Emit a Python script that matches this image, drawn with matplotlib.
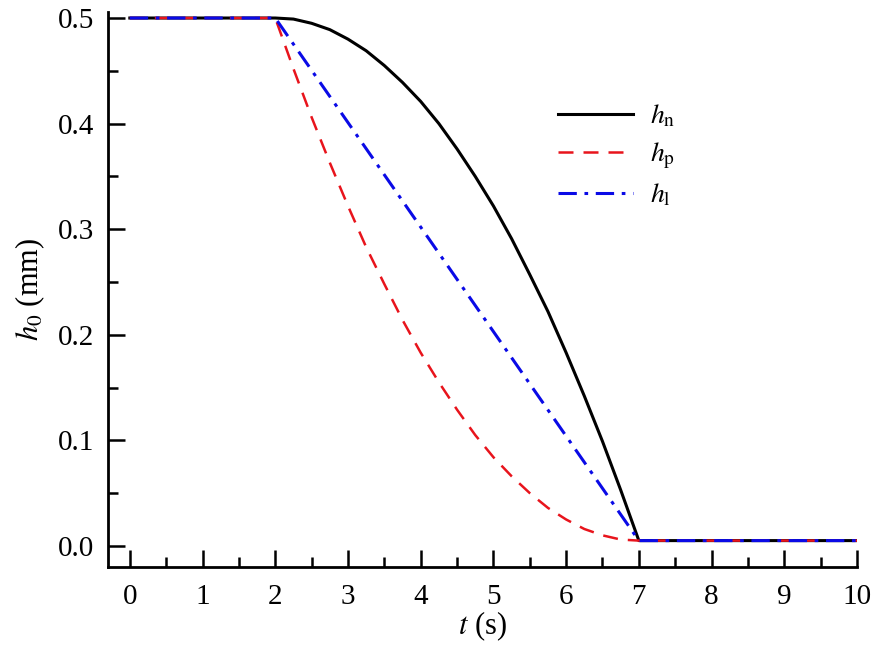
import numpy as np
import matplotlib
matplotlib.use("Agg")
import matplotlib.pyplot as plt
from matplotlib.ticker import MultipleLocator

plt.rcParams['font.family'] = ['Liberation Serif', 'DejaVu Serif']
plt.rcParams['mathtext.fontset'] = 'stix'

# time points (s)
t = [0, 1, 2, 2.25, 2.5, 2.75, 3, 3.25, 3.5, 3.75, 4, 4.25, 4.5, 4.75,
     5, 5.25, 5.5, 5.75, 6, 6.25, 6.5, 6.75, 7, 8, 9, 10]

# h_n : slow start, steep end
h_n = [0.5, 0.5, 0.5, 0.499, 0.495, 0.489, 0.480, 0.469, 0.455, 0.439,
       0.421, 0.400, 0.376, 0.350, 0.322, 0.291, 0.257, 0.222, 0.183,
       0.142, 0.099, 0.053, 0.005, 0.005, 0.005, 0.005]

# h_p : steep start, slow end
h_p = [0.5, 0.5, 0.5, 0.452, 0.406, 0.363, 0.322, 0.283, 0.248, 0.214,
       0.183, 0.155, 0.129, 0.105, 0.084, 0.066, 0.050, 0.036, 0.025,
       0.016, 0.010, 0.006, 0.005, 0.005, 0.005, 0.005]

# h_l : linear drop
t_l = [0, 1, 2, 7, 8, 9, 10]
h_l = [0.5, 0.5, 0.5, 0.005, 0.005, 0.005, 0.005]

fig = plt.figure(figsize=(8.8, 6.5), dpi=100)
ax = fig.add_axes([108/880, 83/650, (857-108)/880, (567-12)/650])

ax.plot(t, h_n, color='black', lw=2.2, label=r'$h_\mathrm{n}$')
ax.plot(t, h_p, color='#e8141c', lw=1.8, linestyle=(0, (6, 4)), label=r'$h_\mathrm{p}$')
ax.plot(t_l, h_l, color='#0a0ae6', lw=2.2, linestyle=(0, (6, 2.5, 1.2, 2.5)), label=r'$h_\mathrm{l}$')

ax.set_xlim(-0.3, 10)
ax.set_ylim(-0.02, 0.5057)
ax.xaxis.set_major_locator(MultipleLocator(1))
ax.xaxis.set_minor_locator(MultipleLocator(0.5))
ax.yaxis.set_major_locator(MultipleLocator(0.1))
ax.yaxis.set_minor_locator(MultipleLocator(0.05))
ax.set_xticks(np.arange(0, 11, 1))
ax.set_yticks([0, 0.1, 0.2, 0.3, 0.4, 0.5])
ax.set_yticklabels(['0.0', '0.1', '0.2', '0.3', '0.4', '0.5'])

for s in ['top', 'right']:
    ax.spines[s].set_visible(False)
for s in ['left', 'bottom']:
    ax.spines[s].set_linewidth(2)

ax.tick_params(which='major', direction='in', length=12, width=1.8, labelsize=21, pad=10)
ax.tick_params(which='minor', direction='in', length=7, width=1.8)
ax.tick_params(axis='x', pad=12)

ax.set_xlabel(r'$t$ (s)', fontsize=22, labelpad=0)
ax.set_ylabel(r'$h_0$ (mm)', fontsize=22, labelpad=8)

ax.legend(loc='upper left', bbox_to_anchor=(544/880, 1 - 89/650), bbox_transform=fig.transFigure,
          frameon=False, fontsize=20, handlelength=2.7, handletextpad=0.6, labelspacing=0.4,
          borderpad=0)

fig.savefig('out.png', dpi=100)
